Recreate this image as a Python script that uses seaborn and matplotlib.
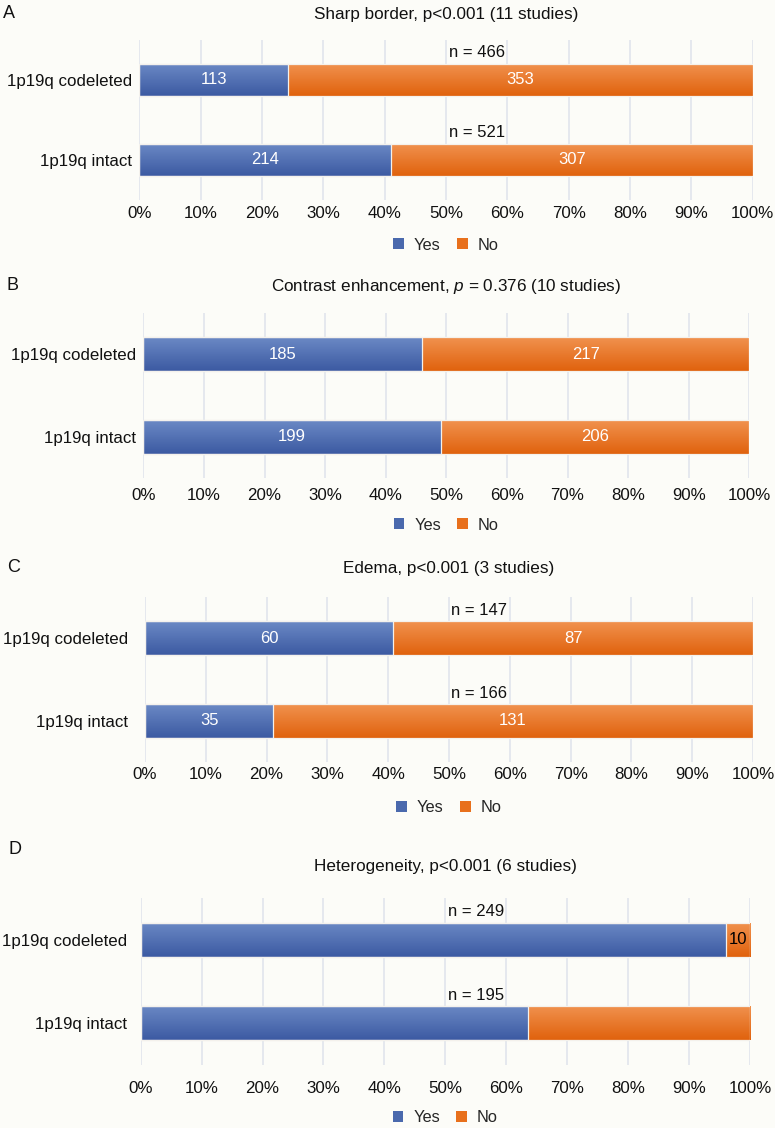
import numpy as np
import pandas as pd
import matplotlib
matplotlib.use("Agg")
import matplotlib.pyplot as plt
import seaborn as sns
from matplotlib.patches import Patch
from matplotlib.colors import LinearSegmentedColormap

# ---------------- data ----------------
groups = ["1p19q codeleted", "1p19q intact"]
panel_letters = ["A", "B", "C", "D"]
titles = [
    "Sharp border, p<0.001 (11 studies)",
    "Contrast enhancement, $\\mathit{p}$ = 0.376 (10 studies)",
    "Edema, p<0.001 (3 studies)",
    "Heterogeneity, p<0.001 (6 studies)",
]
yes_counts = [[113, 214], [185, 199], [60, 35], [239, 124]]
no_counts = [[353, 307], [217, 206], [87, 131], [10, 71]]
show_n = [True, False, True, True]
# which segment labels are shown (yes, no) per group
show_yes_label = [[True, True], [True, True], [True, True], [False, False]]
show_no_label = [[True, True], [True, True], [True, True], [True, False]]
no_label_color = ["white", "white", "white", "black"]
xtick_labels = [f"{v}%" for v in range(0, 101, 10)]
legend_labels = ["Yes", "No"]

# ---------------- style ----------------
sns.set_theme(style="white")
plt.rcParams["font.family"] = ["Liberation Sans", "DejaVu Sans"]
plt.rcParams["mathtext.fontset"] = "custom"
plt.rcParams["mathtext.rm"] = "Liberation Sans"
plt.rcParams["mathtext.it"] = "Liberation Sans:italic"

BG = "#fcfcf8"
BLUE = "#4a69ad"
ORANGE = "#e8701c"
blue_cmap = LinearSegmentedColormap.from_list("b", ["#6b89c5", "#3c5aa2"])
orange_cmap = LinearSegmentedColormap.from_list("o", ["#f1924f", "#e0620d"])
FS = 12.0
FS_TITLE = 12.3
FS_TICK = 12.2
FS_LEG = 11.8

W, H = 775, 1128
fig = plt.figure(figsize=(W / 100, H / 100), dpi=100, facecolor=BG)

# layout in pixels: (x0, x1, ytop, ybottom, ytick_pad_px, xtick_pad_px, title_y, letter_x, letter_y, legend_y)
layout = [
    (139.3, 752.7, 40, 200, 7, 6, 14, 3, 13, 245),
    (143.3, 749.3, 313, 478, 7.6, 10, 287, 7, 285, 525),
    (145.0, 753.0, 597, 762, 17, 5, 568, 7, 567, 808),
    (140.7, 750.0, 898, 1065, 14, 16, 866, 8, 850, 1118),
]
BAR_H = 0.41

for k in range(4):
    x0, x1, yt, yb, ypad, xpad, ty, lx, ly, legy = layout[k]
    ax = fig.add_axes([x0 / W, 1 - yb / H, (x1 - x0) / W, (yb - yt) / H])
    ax.set_facecolor(BG)

    yes = np.array(yes_counts[k], dtype=float)
    no = np.array(no_counts[k], dtype=float)
    tot = yes + no
    yes_pct = yes / tot * 100
    full_pct = (yes + no) / tot * 100
    df = pd.DataFrame({"group": groups, "yes_pct": yes_pct, "full_pct": full_pct})

    sns.barplot(data=df, x="full_pct", y="group", order=groups, color=ORANGE,
                width=BAR_H, orient="h", errorbar=None, ax=ax, zorder=3)
    n_orange = len(ax.patches)
    sns.barplot(data=df, x="yes_pct", y="group", order=groups, color=BLUE,
                width=BAR_H, orient="h", errorbar=None, ax=ax, zorder=3)

    # gradient fills clipped to the bars drawn by seaborn
    grad = np.linspace(0, 1, 64).reshape(-1, 1)
    for i, p in enumerate(ax.patches):
        bx, by = p.get_x(), p.get_y()
        bw, bh = p.get_width(), p.get_height()
        cmap = orange_cmap if i < n_orange else blue_cmap
        im = ax.imshow(grad, cmap=cmap, aspect="auto",
                       extent=(bx, bx + bw, by + bh, by), origin="upper",
                       zorder=2 if i < n_orange else 2.5, interpolation="bilinear")
        im.set_clip_path(p)
        p.set_facecolor("none")
        p.set_edgecolor("#f4f1ec")
        p.set_linewidth(0.9)
        p.set_zorder(3 if i < n_orange else 3.5)

    ax.set_xlim(0, 100)
    ax.set_ylim(1.5, -0.5)
    ax.set_xticks(range(0, 101, 10))
    ax.set_xticklabels(xtick_labels, fontsize=FS_TICK, color="#111111")
    ax.tick_params(axis="x", length=0, pad=xpad * 0.72)
    ax.tick_params(axis="y", length=0, pad=ypad * 0.72, labelsize=FS_TICK, labelcolor="#111111")
    ax.set_xlabel("")
    ax.set_ylabel("")
    ax.grid(axis="x", color="#e3e6ed", linewidth=1.3, zorder=0)
    ax.set_axisbelow(True)
    for s in ax.spines.values():
        s.set_visible(False)

    # labels
    for i in range(2):
        if show_yes_label[k][i]:
            ax.text(yes_pct[i] / 2, i, f"{int(yes[i])}", ha="center", va="center",
                    color="white", fontsize=FS, zorder=5)
        if show_no_label[k][i]:
            ax.text(yes_pct[i] + (100 - yes_pct[i]) / 2, i, f"{int(no[i])}",
                    ha="center", va="center", color=no_label_color[k], fontsize=FS, zorder=5)
        if show_n[k]:
            ax.text(55, i - BAR_H / 2 - 0.04, f"n = {int(tot[i])}", ha="center",
                    va="bottom", color="#111111", fontsize=FS, zorder=5)

    # title and panel letter
    fig.text(((x0 + x1) / 2) / W, 1 - ty / H, titles[k], ha="center", va="center",
             fontsize=FS_TITLE, color="#111111")
    fig.text(lx / W, 1 - ly / H, panel_letters[k], ha="left", va="center",
             fontsize=13, color="#111111")

    handles = [Patch(facecolor=BLUE, edgecolor="none"), Patch(facecolor=ORANGE, edgecolor="none")]
    fig.legend(handles, legend_labels, loc="center", ncol=2, frameon=False,
               bbox_to_anchor=(((x0 + x1) / 2) / W, 1 - legy / H), fontsize=FS_LEG,
               handlelength=0.65, handleheight=0.65, handletextpad=0.6, columnspacing=1.0)

fig.savefig("out.png", dpi=100, facecolor=BG)
